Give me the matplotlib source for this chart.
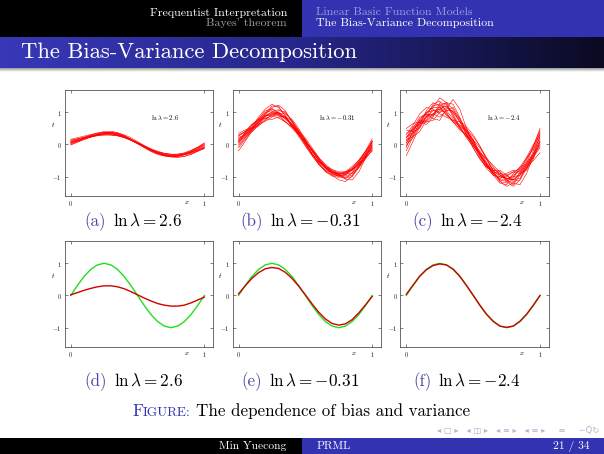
import matplotlib.pyplot as plt
import numpy as np
from matplotlib.patches import Rectangle
from matplotlib.colors import LinearSegmentedColormap

plt.rcParams['mathtext.fontset'] = 'cm'
plt.rcParams['font.family'] = ['cmr10', 'DejaVu Serif']
plt.rcParams['axes.formatter.use_mathtext'] = True

W, H = 604, 454
BLUE = '#3333b2'

# x grid shared by all curves
xs = [0.00, 0.05, 0.10, 0.15, 0.20, 0.25, 0.30, 0.35, 0.40, 0.45, 0.50,
      0.55, 0.60, 0.65, 0.70, 0.75, 0.80, 0.85, 0.90, 0.95, 1.00]

# true function (green)
truth = [0.00, 0.31, 0.59, 0.81, 0.95, 1.00, 0.95, 0.81, 0.59, 0.31, 0.00,
         -0.31, -0.59, -0.81, -0.95, -1.00, -0.95, -0.81, -0.59, -0.31, 0.00]

# averaged fits (red, bottom row)
mean_a = [0.02, 0.09, 0.16, 0.22, 0.27, 0.30, 0.30, 0.27, 0.21, 0.12, 0.02,
          -0.08, -0.17, -0.25, -0.30, -0.33, -0.33, -0.30, -0.23, -0.14, -0.05]
mean_b = [0.05, 0.30, 0.53, 0.71, 0.83, 0.87, 0.84, 0.72, 0.53, 0.29, 0.02,
          -0.26, -0.52, -0.73, -0.87, -0.92, -0.88, -0.75, -0.54, -0.29, -0.03]
mean_c = [0.04, 0.32, 0.60, 0.80, 0.93, 0.98, 0.95, 0.82, 0.60, 0.31, 0.01,
          -0.30, -0.58, -0.80, -0.95, -0.99, -0.95, -0.80, -0.58, -0.30, 0.00]

# individual fits, ln lambda = 2.6
fits_a = [
    [0.06, 0.13, 0.20, 0.26, 0.31, 0.34, 0.34, 0.30, 0.23, 0.14, 0.04, -0.07, -0.17, -0.25, -0.31, -0.34, -0.34, -0.30, -0.23, -0.14, -0.04],
    [0.12, 0.17, 0.23, 0.29, 0.34, 0.37, 0.37, 0.33, 0.26, 0.16, 0.05, -0.06, -0.16, -0.24, -0.30, -0.33, -0.34, -0.31, -0.26, -0.18, -0.10],
    [0.00, 0.08, 0.16, 0.23, 0.29, 0.33, 0.35, 0.32, 0.25, 0.15, 0.04, -0.08, -0.20, -0.29, -0.35, -0.38, -0.37, -0.32, -0.24, -0.13, -0.01],
    [0.14, 0.18, 0.22, 0.26, 0.29, 0.31, 0.30, 0.27, 0.21, 0.13, 0.03, -0.07, -0.16, -0.23, -0.28, -0.30, -0.30, -0.28, -0.24, -0.18, -0.12],
    [0.04, 0.12, 0.21, 0.29, 0.36, 0.40, 0.41, 0.37, 0.28, 0.16, 0.03, -0.10, -0.22, -0.31, -0.36, -0.38, -0.36, -0.30, -0.21, -0.10, 0.01],
    [0.09, 0.14, 0.19, 0.23, 0.27, 0.29, 0.29, 0.27, 0.22, 0.15, 0.06, -0.04, -0.13, -0.21, -0.27, -0.31, -0.33, -0.32, -0.28, -0.21, -0.13],
    [-0.02, 0.07, 0.15, 0.23, 0.29, 0.33, 0.34, 0.31, 0.25, 0.16, 0.06, -0.05, -0.16, -0.26, -0.33, -0.37, -0.39, -0.37, -0.30, -0.20, -0.08],
    [0.16, 0.21, 0.26, 0.31, 0.35, 0.38, 0.37, 0.33, 0.25, 0.15, 0.04, -0.07, -0.18, -0.27, -0.33, -0.36, -0.35, -0.30, -0.22, -0.12, -0.01],
    [0.05, 0.11, 0.18, 0.25, 0.31, 0.36, 0.38, 0.36, 0.30, 0.21, 0.09, -0.03, -0.15, -0.26, -0.34, -0.39, -0.40, -0.37, -0.31, -0.21, -0.10],
    [0.10, 0.15, 0.20, 0.25, 0.28, 0.31, 0.31, 0.28, 0.22, 0.14, 0.04, -0.06, -0.16, -0.23, -0.28, -0.31, -0.30, -0.26, -0.19, -0.09, 0.04],
    [0.02, 0.10, 0.19, 0.27, 0.33, 0.37, 0.38, 0.34, 0.27, 0.17, 0.05, -0.08, -0.19, -0.28, -0.34, -0.37, -0.36, -0.32, -0.25, -0.16, -0.07],
    [0.07, 0.13, 0.19, 0.25, 0.30, 0.33, 0.33, 0.29, 0.22, 0.13, 0.02, -0.09, -0.19, -0.27, -0.32, -0.34, -0.32, -0.27, -0.18, -0.08, 0.05],
]

# individual fits, ln lambda = -0.31
fits_b = [
    [0.15, 0.35, 0.45, 0.62, 0.92, 1.12, 0.98, 0.80, 0.62, 0.38, 0.10, -0.20, -0.48, -0.72, -0.90, -0.98, -0.92, -0.76, -0.50, -0.22, 0.05],
    [-0.20, 0.10, 0.42, 0.70, 0.88, 0.95, 0.92, 0.82, 0.60, 0.30, 0.02, -0.28, -0.58, -0.82, -0.95, -0.98, -0.92, -0.78, -0.58, -0.35, -0.12],
    [0.30, 0.40, 0.55, 0.78, 1.00, 1.05, 0.88, 0.70, 0.55, 0.36, 0.10, -0.22, -0.50, -0.70, -0.85, -0.95, -1.02, -0.95, -0.70, -0.35, 0.10],
    [0.05, 0.28, 0.52, 0.65, 0.72, 0.85, 1.05, 1.02, 0.72, 0.38, 0.05, -0.30, -0.55, -0.68, -0.78, -0.90, -1.05, -1.00, -0.72, -0.38, -0.10],
    [0.22, 0.30, 0.45, 0.72, 0.98, 1.20, 1.18, 0.88, 0.55, 0.30, 0.08, -0.18, -0.45, -0.70, -0.88, -1.00, -1.05, -0.88, -0.55, -0.20, 0.18],
    [0.10, 0.38, 0.60, 0.75, 0.82, 0.88, 0.92, 0.85, 0.65, 0.40, 0.12, -0.15, -0.42, -0.65, -0.82, -0.88, -0.85, -0.75, -0.60, -0.40, -0.18],
    [-0.05, 0.20, 0.48, 0.80, 1.05, 1.10, 0.95, 0.72, 0.50, 0.30, 0.05, -0.28, -0.60, -0.85, -0.98, -1.02, -0.95, -0.80, -0.60, -0.32, 0.00],
    [0.35, 0.45, 0.50, 0.58, 0.75, 0.95, 1.00, 0.85, 0.62, 0.42, 0.20, -0.10, -0.40, -0.62, -0.78, -0.85, -0.85, -0.78, -0.62, -0.38, -0.05],
    [0.12, 0.30, 0.55, 0.85, 1.10, 1.25, 1.15, 0.90, 0.58, 0.25, -0.05, -0.35, -0.62, -0.82, -0.95, -1.10, -1.15, -0.98, -0.65, -0.28, 0.12],
    [0.00, 0.22, 0.40, 0.58, 0.78, 0.92, 0.98, 0.95, 0.78, 0.50, 0.15, -0.20, -0.50, -0.72, -0.85, -0.90, -0.88, -0.80, -0.65, -0.42, -0.20],
    [0.25, 0.42, 0.62, 0.80, 0.90, 0.90, 0.82, 0.70, 0.55, 0.35, 0.12, -0.15, -0.42, -0.68, -0.85, -0.92, -0.88, -0.72, -0.48, -0.20, 0.08],
    [-0.10, 0.15, 0.40, 0.62, 0.85, 1.02, 1.08, 0.98, 0.75, 0.42, 0.05, -0.32, -0.62, -0.80, -0.88, -0.90, -0.92, -0.88, -0.72, -0.45, -0.15],
    [0.18, 0.32, 0.50, 0.70, 0.90, 1.00, 0.98, 0.85, 0.62, 0.32, 0.00, -0.30, -0.55, -0.75, -0.88, -0.95, -0.98, -0.90, -0.68, -0.38, -0.02],
    [0.05, 0.35, 0.62, 0.78, 0.80, 0.78, 0.85, 0.88, 0.72, 0.45, 0.15, -0.18, -0.48, -0.75, -0.92, -0.95, -0.85, -0.68, -0.50, -0.30, -0.08],
    [0.28, 0.38, 0.52, 0.72, 0.95, 1.15, 1.22, 1.05, 0.70, 0.32, -0.02, -0.32, -0.55, -0.70, -0.82, -0.95, -1.08, -1.10, -0.85, -0.42, 0.05],
    [0.08, 0.25, 0.45, 0.68, 0.88, 0.98, 0.95, 0.80, 0.58, 0.35, 0.10, -0.18, -0.45, -0.68, -0.85, -0.92, -0.90, -0.78, -0.55, -0.25, 0.10],
]

# individual fits, ln lambda = -2.4
fits_c = [
    [0.20, 0.55, 0.70, 0.62, 0.85, 1.30, 1.25, 0.85, 0.55, 0.40, 0.15, -0.30, -0.65, -0.80, -0.85, -1.10, -1.25, -0.95, -0.55, -0.30, 0.10],
    [-0.35, 0.10, 0.55, 0.90, 0.95, 0.85, 1.05, 1.15, 0.80, 0.30, -0.05, -0.25, -0.45, -0.80, -1.15, -1.20, -0.90, -0.70, -0.60, -0.30, 0.25],
    [0.45, 0.40, 0.50, 0.85, 1.25, 1.35, 1.00, 0.70, 0.60, 0.45, 0.10, -0.35, -0.70, -0.85, -0.90, -0.95, -1.10, -1.05, -0.70, -0.20, 0.40],
    [0.05, 0.35, 0.80, 0.95, 0.80, 0.75, 1.10, 1.40, 1.10, 0.50, 0.00, -0.40, -0.75, -0.95, -1.00, -0.90, -0.80, -0.85, -0.75, -0.40, 0.05],
    [0.15, 0.25, 0.40, 0.75, 1.15, 1.45, 1.30, 0.90, 0.50, 0.25, 0.05, -0.20, -0.55, -0.90, -1.10, -1.15, -1.00, -0.75, -0.45, -0.10, 0.35],
    [-0.10, 0.45, 0.75, 0.70, 0.75, 1.00, 1.15, 1.00, 0.70, 0.45, 0.25, -0.05, -0.40, -0.70, -0.95, -1.10, -1.20, -1.25, -0.90, -0.35, 0.15],
    [0.30, 0.60, 0.95, 1.15, 1.10, 0.95, 0.85, 0.75, 0.55, 0.25, -0.10, -0.45, -0.70, -0.80, -0.80, -0.95, -1.15, -1.10, -0.75, -0.30, 0.00],
    [0.00, 0.20, 0.60, 1.05, 1.30, 1.20, 0.90, 0.75, 0.70, 0.50, 0.15, -0.25, -0.60, -0.95, -1.20, -1.25, -1.05, -0.70, -0.40, -0.15, 0.20],
    [0.50, 0.65, 0.70, 0.75, 0.95, 1.20, 1.30, 1.10, 0.70, 0.30, 0.00, -0.25, -0.45, -0.65, -0.85, -1.05, -1.10, -0.90, -0.50, -0.05, 0.45],
    [-0.20, 0.25, 0.70, 1.00, 1.05, 1.00, 1.05, 1.05, 0.80, 0.40, 0.00, -0.35, -0.65, -0.90, -1.05, -1.00, -0.85, -0.75, -0.65, -0.40, -0.10],
    [0.25, 0.35, 0.55, 0.85, 1.05, 1.10, 0.95, 0.70, 0.45, 0.30, 0.15, -0.10, -0.45, -0.85, -1.15, -1.30, -1.20, -0.85, -0.40, 0.00, 0.30],
    [0.10, 0.50, 0.85, 0.95, 0.90, 1.05, 1.30, 1.25, 0.85, 0.35, -0.10, -0.45, -0.70, -0.85, -0.95, -1.05, -1.10, -0.95, -0.65, -0.35, -0.05],
    [0.35, 0.45, 0.65, 0.95, 1.20, 1.25, 1.05, 0.80, 0.60, 0.40, 0.10, -0.30, -0.60, -0.75, -0.90, -1.15, -1.30, -1.10, -0.60, -0.05, 0.50],
    [-0.05, 0.30, 0.65, 0.85, 0.95, 1.10, 1.20, 0.95, 0.55, 0.20, -0.05, -0.30, -0.60, -0.90, -1.10, -1.10, -0.95, -0.80, -0.70, -0.50, -0.25],
    [0.20, 0.50, 0.65, 0.70, 0.90, 1.15, 1.20, 1.00, 0.75, 0.55, 0.30, -0.05, -0.45, -0.80, -1.00, -1.05, -1.00, -0.95, -0.75, -0.30, 0.30],
    [0.05, 0.40, 0.75, 1.00, 1.15, 1.15, 0.95, 0.70, 0.50, 0.30, 0.05, -0.30, -0.65, -0.95, -1.05, -0.95, -0.85, -0.90, -0.80, -0.45, 0.10],
]

lam_values = ['2.6', '-0.31', '-2.4']
letters_top = ['a', 'b', 'c']
letters_bot = ['d', 'e', 'f']

fig = plt.figure(figsize=(6.04, 4.54), dpi=100, facecolor='white')
r = fig.canvas.get_renderer()

# slide background in pixel units
bg = fig.add_axes([0, 0, 1, 1])
bg.axis('off')

# headline
bg.add_patch(Rectangle((0, 0), 302, 37, color='black', lw=0))
bg.add_patch(Rectangle((302, 0), 302, 37, color=BLUE, lw=0))
# frame title bar, blue fading to black
cm_title = LinearSegmentedColormap.from_list('tb', ['#3838b8', '#26268a', '#0a0a22'])
bg.imshow(np.linspace(0, 1, 256)[None, :], cmap=cm_title, aspect='auto',
          extent=(0, W, 68, 37), zorder=1)
shadow = LinearSegmentedColormap.from_list('sh', ['#9a9a9a', '#ffffff'])
bg.imshow(np.linspace(0, 1, 16)[:, None], cmap=shadow, aspect='auto',
          extent=(0, W, 72, 68), zorder=1)
# footline
bg.add_patch(Rectangle((0, 438), 302, 16, color='black', lw=0))
bg.add_patch(Rectangle((302, 438), 302, 16, color=BLUE, lw=0))
bg.set_xlim(0, W)
bg.set_ylim(H, 0)

bg.text(287, 12.5, 'Frequentist Interpretation', color='white', fontsize=8.6, ha='right', va='center')
bg.text(287, 22.5, "Bayes' theorem", color='#a0a0a0', fontsize=8.6, ha='right', va='center')
bg.text(316, 12.5, 'Linear Basic Function Models', color='#9b9bdc', fontsize=8.6, ha='left', va='center')
bg.text(316, 22.5, 'The Bias-Variance Decomposition', color='white', fontsize=8.6, ha='left', va='center')
bg.text(21, 52, 'The Bias-Variance Decomposition', color='white', fontsize=16.3, ha='left', va='center')

bg.text(286, 446, 'Min Yuecong', color='white', fontsize=8.3, ha='right', va='center')
bg.text(317, 446, 'PRML', color='white', fontsize=8.3, ha='left', va='center')
bg.text(590, 446, '21 / 34', color='white', fontsize=8.3, ha='right', va='center')
bg.text(599, 430, '\u25c2 \u25a1 \u25b8   \u25c2 \u25eb \u25b8   \u25c2 \u2261 \u25b8   \u25c2 \u2261 \u25b8     \u2261     \u223dQ\u21bb',
        color='#b4b4cc', fontsize=6, ha='right', va='center', family='DejaVu Sans')


def run(xc, y, parts):
    # place text pieces side by side on a common baseline, centred on xc
    texts, widths = [], []
    for s, fs, col, gap in parts:
        t = bg.text(0, y, s, fontsize=fs, color=col, va='baseline', ha='left')
        texts.append(t)
        widths.append(t.get_window_extent(r).width + gap)
    x = xc - sum(widths) / 2
    for t, w in zip(texts, widths):
        t.set_x(x)
        x += w


run(301, 416, [('F', 12.2, BLUE, 0), ('IGURE:', 9.6, BLUE, 5),
               ('The dependence of bias and variance', 12.2, 'black', 0)])


def frame(ax):
    ax.set_xlim(-0.045, 1.065)
    ax.set_ylim(-1.6, 1.68)
    ax.set_xticks([0, 1])
    ax.set_xticklabels(['$0$', '$1$'])
    ax.set_yticks([-1, 0, 1])
    ax.set_yticklabels(['$-1$', '$0$', '$1$'])
    ax.tick_params(direction='in', length=2, width=0.4, labelsize=4.5, pad=2,
                   top=True, right=True, colors='#222222')
    for s in ax.spines.values():
        s.set_linewidth(0.5)
        s.set_color('#333333')
    ax.text(-0.08, 0.62, '$t$', transform=ax.get_yaxis_transform(), fontsize=5,
            ha='center', va='center')
    ax.text(0.865, -0.06, '$x$', transform=ax.get_xaxis_transform(), fontsize=5,
            ha='center', va='center')


col_left = [64.7, 232.5, 400.3]
ax_w, ax_h = 148.4, 105.6
row_bottom = [196, 347]
cap_y = [226, 386]
cap_x = [133.5, 300.5, 467]

fits = [fits_a, fits_b, fits_c]
means = [mean_a, mean_b, mean_c]

for i in range(3):
    lam = lam_values[i]
    # top row: individual fits
    ax = fig.add_axes([col_left[i] / W, (H - row_bottom[0]) / H, ax_w / W, ax_h / H])
    for f in fits[i]:
        ax.plot(xs, f, color='#ff0000', lw=0.4)
    frame(ax)
    ax.text(0.6, 0.83, r'$\ln\lambda = %s$' % lam, fontsize=4.8, ha='left', va='center')
    run(cap_x[i], cap_y[0], [('(%s)' % letters_top[i], 12.3, '#4a4aa8', 7),
                             (r'$\ln\lambda = %s$' % lam, 12.3, 'black', 0)])

    # bottom row: average fit vs truth
    ax = fig.add_axes([col_left[i] / W, (H - row_bottom[1]) / H, ax_w / W, ax_h / H])
    ax.plot(xs, truth, color='#22dd22', lw=1.0)
    ax.plot(xs, means[i], color='#d00000', lw=1.0)
    frame(ax)
    run(cap_x[i], cap_y[1], [('(%s)' % letters_bot[i], 12.3, '#4a4aa8', 7),
                             (r'$\ln\lambda = %s$' % lam, 12.3, 'black', 0)])

fig.savefig('out.png', dpi=100)
